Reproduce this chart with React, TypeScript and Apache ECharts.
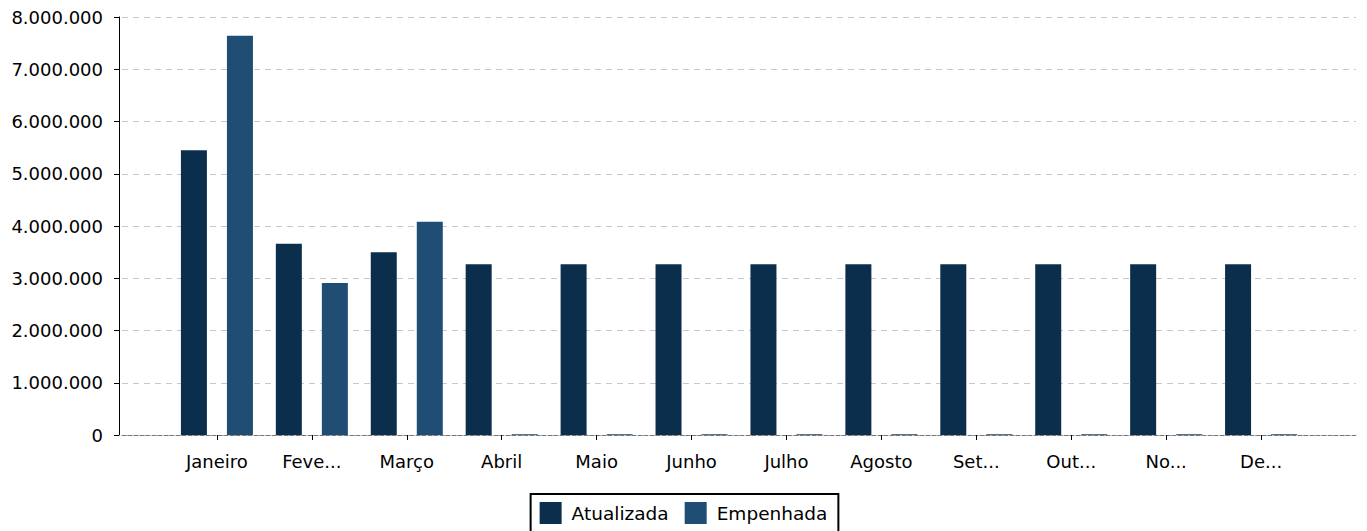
import React, { useEffect, useRef } from "react";
import * as echarts from "echarts";

const categories = ["Janeiro", "Feve...", "Março", "Abril", "Maio", "Junho", "Julho", "Agosto", "Set...", "Out...", "No...", "De..."];
const atualizada = [5450000, 3660000, 3500000, 3270000, 3270000, 3270000, 3270000, 3270000, 3270000, 3270000, 3270000, 3270000];
const empenhada = [7640000, 2910000, 4080000, 15000, 15000, 15000, 15000, 15000, 15000, 15000, 15000, 15000];
const seriesNames = ["Atualizada", "Empenhada"];
const colors = ["#0c2e4d", "#1f4d74"];

const FONT = "DejaVu Sans";

function fmt(v: number): string {
  return String(Math.round(v)).replace(/\B(?=(\d{3})+(?!\d))/g, ".");
}

export default function App() {
  const ref = useRef<HTMLDivElement>(null);
  useEffect(() => {
    if (!ref.current) return;
    const chart = echarts.init(ref.current, undefined, { renderer: "svg" });
    const cats = ["", ...categories, ""];
    const pad = (arr: number[]) => [null, ...arr, null];
    chart.setOption({
      animation: false,
      color: colors,
      textStyle: { fontFamily: FONT },
      grid: { left: 114, right: 0, top: 9, bottom: 96, containLabel: false },
      legend: {
        data: seriesNames,
        left: "center",
        top: 486,
        orient: "horizontal",
        borderColor: "#000",
        borderWidth: 2,
        borderRadius: 0,
        padding: [8, 11, 8, 9],
        itemWidth: 22,
        itemHeight: 22,
        itemGap: 16,
        icon: "rect",
        textStyle: { fontFamily: FONT, fontSize: 18.5, color: "#000", padding: [0, 0, 0, 5] },
      },
      xAxis: {
        type: "category",
        data: cats,
        boundaryGap: false,
        axisLine: { show: true, lineStyle: { color: "#777", type: "dashed", width: 1 } },
        axisTick: {
          show: true,
          length: 5,
          interval: (i: number) => i > 0 && i < cats.length - 1,
          lineStyle: { color: "#000" },
        },
        axisLabel: {
          interval: 0,
          margin: 17,
          fontFamily: FONT,
          fontSize: 18,
          color: "#000",
        },
        splitLine: { show: false },
      },
      yAxis: {
        type: "value",
        min: 0,
        max: 8000000,
        interval: 1000000,
        offset: 3,
        axisLine: { show: true, lineStyle: { color: "#000", width: 1 } },
        axisTick: { show: true, length: 5, lineStyle: { color: "#000" } },
        axisLabel: {
          margin: 16,
          fontFamily: FONT,
          fontSize: 18,
          color: "#000",
          formatter: (v: number) => fmt(v),
        },
        splitLine: { show: true, lineStyle: { color: "#c8c8c8", type: [6, 5], width: 1 } },
      },
      series: [
        {
          name: seriesNames[0],
          type: "bar",
          data: pad(atualizada),
          barWidth: 26,
          barGap: "77%",
          itemStyle: { color: colors[0] },
        },
        {
          name: seriesNames[1],
          type: "bar",
          data: pad(empenhada),
          barWidth: 26,
          itemStyle: { color: colors[1] },
        },
      ],
    });
    return () => chart.dispose();
  }, []);
  return <div ref={ref} style={{ width: 1351, height: 523 }} />;
}
